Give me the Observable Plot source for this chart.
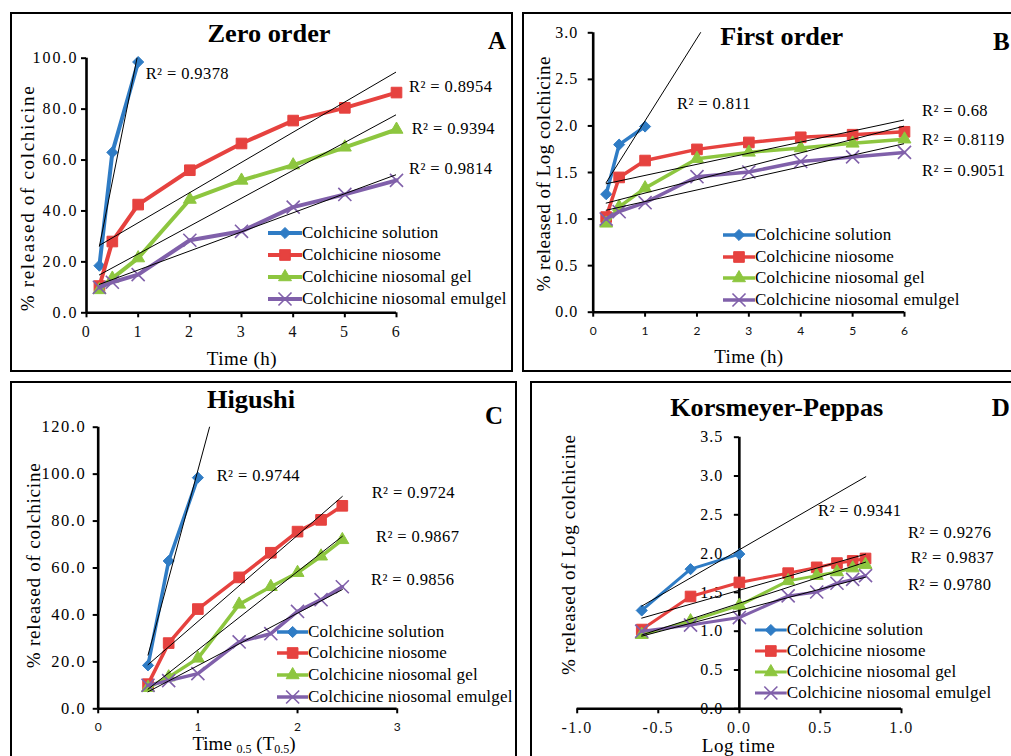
<!DOCTYPE html>
<html>
<head>
<meta charset="utf-8">
<script src="https://cdn.jsdelivr.net/npm/d3@7"></script>
<script src="https://cdn.jsdelivr.net/npm/@observablehq/plot@0.6"></script>
<style>
  html, body { margin: 0; padding: 0; background: #fff; }
  #page { position: relative; width: 1011px; height: 756px; overflow: hidden; background: #fff;
          font-family: "Liberation Serif", "Times New Roman", serif; color: #000; }
  .box { position: absolute; border: 2px solid #000; box-sizing: border-box; }
  .layer { position: absolute; left: 0; top: 0; }
  .legend { position: absolute; font-family: "Liberation Serif", "Times New Roman", serif;
            font-size: 17px; white-space: nowrap; letter-spacing: 0.2px; color: #000; }
  .legend .row { display: flex; align-items: center; }
  .legend svg { display: block; }
</style>
</head>
<body>
<div id="page"></div>
<script>
// ---- Release data (% colchicine released at each sampling time) ----
const seriesNames = ["Colchicine solution", "Colchicine niosome", "Colchicine niosomal gel", "Colchicine niosomal emulgel"];
const seriesColors = ["#2f7cc5", "#e6423f", "#8dc63f", "#8060aa"];
const timeH = [0.25, 0.5, 1, 2, 3, 4, 5, 6];
const solutionPct = [18.5, 63.0, 98.5];
const niosomePct = [10.5, 28.0, 42.5, 56.0, 66.5, 75.5, 80.5, 86.5];
const gelPct = [9.0, 13.5, 21.5, 44.5, 52.0, 58.0, 65.0, 72.0];
const emulgelPct = [10.0, 12.0, 15.0, 28.5, 32.0, 41.5, 46.5, 52.0];

// ---- Coefficients of determination of each kinetic fit ----
const r2ZeroOrder = ["0.9378", "0.8954", "0.9394", "0.9814"];
const r2FirstOrder = ["0.811", "0.68", "0.8119", "0.9051"];
const r2Higuchi = ["0.9744", "0.9724", "0.9867", "0.9856"];
const r2Peppas = ["0.9341", "0.9276", "0.9837", "0.9780"];

// ---- Axis ticks ----
const hourTicks = [0, 1, 2, 3, 4, 5, 6];
const zeroTicks = [0, 20, 40, 60, 80, 100];
const logTicks = [0, 0.5, 1, 1.5, 2, 2.5, 3];
const sqrtTicks = [0, 1, 2, 3];
const higuchiTicks = [0, 20, 40, 60, 80, 100, 120];
const logTimeTicks = [-1, -0.5, 0, 0.5, 1];
const peppasTicks = [0, 0.5, 1, 1.5, 2, 2.5, 3, 3.5];

const releaseSeries = [solutionPct, niosomePct, gelPct, emulgelPct];
const symbolNames = ["diamond2", "square", "triangle", "times"];
const symbolTypes = [d3.symbolDiamond2, d3.symbolSquare, d3.symbolTriangle, d3.symbolTimes];
const symbolR = [5, 6, 4.8, 6];

const W = 1011, H = 756;
const SERIF = "Liberation Serif";
const SANS = "Lato";
const fixed1 = d => d.toFixed(1);

const panels = [
  { title: "Zero order", letter: "A", fx: t => t, fy: v => v, r2: r2ZeroOrder,
    xDomain: [0, 6], yDomain: [0, 100], xTicks: hourTicks, yTicks: zeroTicks,
    xFormat: d => String(d), yFormat: fixed1, yAxisAt: 0,
    frame: { left: 86, right: 396, top: 57.7, bottom: 312.3 },
    forecast: [0, 0, 0, 0], lineWidth: 4,
    xFont: { fontFamily: SERIF, fontSize: 16 }, xPad: 8, yPad: 3, yFontSize: 16, ySpacing: 2,
    box: { left: 10, top: 12, width: 503, height: 360 },
    titlePos: [269, 41.7, 123], letterPos: [488, 48.5],
    yTitle: { text: "% released of colchicine", x: 27, y: 198.8, len: 225 },
    xTitle: { text: "Time (h)", x: 241.7, y: 365, len: 70 },
    r2Pos: [[145.7, 73.3], [409, 86], [411.7, 128], [409, 168]],
    legend: { left: 268, first: 232.7, step: 22, sw: 34 } },
  { title: "First order", letter: "B", fx: t => t, fy: v => Math.log10(v), r2: r2FirstOrder,
    xDomain: [0, 6], yDomain: [0, 3], xTicks: hourTicks, yTicks: logTicks,
    xFormat: d => String(d), yFormat: fixed1, yAxisAt: 0,
    frame: { left: 592.7, right: 904, top: 32.3, bottom: 311.7 },
    forecast: [2, 0, 0, 0], lineWidth: 3.5,
    xFont: { fontFamily: SANS, fontSize: 12 }, xPad: 9, yPad: 10, yFontSize: 16, ySpacing: 1,
    box: { left: 521.5, top: 12, width: 520, height: 360 },
    titlePos: [781.7, 45, 123], letterPos: [993, 50],
    yTitle: { text: "% released of Log colchicine", x: 543.3, y: 174, len: 235 },
    xTitle: { text: "Time (h)", x: 748.7, y: 363.3, len: 69 },
    r2Pos: [[677, 103], [922, 110], [922, 139], [922, 170]],
    legend: { left: 723, first: 235, step: 21.7, sw: 32 } },
  { title: "Higushi", letter: "C", fx: t => Math.sqrt(t), fy: v => v, r2: r2Higuchi,
    xDomain: [0, 3], yDomain: [0, 120], xTicks: sqrtTicks, yTicks: higuchiTicks,
    xFormat: d => String(d), yFormat: fixed1, yAxisAt: 0,
    frame: { left: 97.7, right: 396.7, top: 426.7, bottom: 708.3 },
    forecast: [1, 0, 0, 0], lineWidth: 3.5,
    xFont: { fontFamily: SANS, fontSize: 12 }, xPad: 9, yPad: 7, yFontSize: 16.5, ySpacing: 1.5,
    box: { left: 10, top: 381, width: 507, height: 400 },
    titlePos: [251, 408.3, 88], letterPos: [485, 424.3],
    yTitle: { text: "% released of colchicine", x: 33.3, y: 565.8, len: 205 },
    xTitle: null,
    r2Pos: [[216.7, 475], [371.7, 492], [376, 536.7], [371, 579]],
    legend: { left: 276.7, first: 631.7, step: 21.8, sw: 31.3 } },
  { title: "Korsmeyer-Peppas", letter: "D", fx: t => Math.log10(t), fy: v => Math.log10(v), r2: r2Peppas,
    xDomain: [-1, 1], yDomain: [0, 3.5], xTicks: logTimeTicks, yTicks: peppasTicks,
    xFormat: fixed1, yFormat: fixed1, yAxisAt: 0,
    frame: { left: 576.7, right: 901, top: 436.7, bottom: 708.3 },
    forecast: [0.78, 0, 0, 0], lineWidth: 3,
    xFont: { fontFamily: SERIF, fontSize: 16 }, xPad: 8, yPad: 11, yFontSize: 16, ySpacing: 1,
    box: { left: 530, top: 381, width: 500, height: 400 },
    titlePos: [776.7, 415.7, 213], letterPos: [991.7, 415.7],
    yTitle: { text: "% released of Log colchicine", x: 568.3, y: 555, len: 240 },
    xTitle: { text: "Log time", x: 738.3, y: 751.5, len: 73 },
    r2Pos: [[818, 510], [908, 532], [910.7, 557.7], [908, 584]],
    legend: { left: 755, first: 630, step: 21, sw: 31.7 } }
];

// least-squares straight line through a set of points
function fit(pts) {
  const mx = d3.mean(pts, p => p.x), my = d3.mean(pts, p => p.y);
  const b = d3.sum(pts, p => (p.x - mx) * (p.y - my)) / d3.sum(pts, p => (p.x - mx) ** 2);
  return { a: my - b * mx, b };
}

const page = d3.select("#page");

// panel frames
panels.forEach(p => {
  page.append("div").attr("class", "box")
    .style("left", p.box.left + "px").style("top", p.box.top + "px")
    .style("width", p.box.width + "px").style("height", p.box.height + "px");
});

// charts
panels.forEach(p => {
  const rows = releaseSeries.map(vals => vals.map((v, i) => ({ x: p.fx(timeH[i]), y: p.fy(v) })));
  const trends = rows.map((pts, k) => {
    const { a, b } = fit(pts);
    const x0 = d3.min(pts, d => d.x);
    const x1 = d3.max(pts, d => d.x) + p.forecast[k];
    return [{ x: x0, y: a + b * x0 }, { x: x1, y: a + b * x1 }];
  });

  const plotW = p.frame.right - p.frame.left;
  const yAxisDx = (p.yAxisAt - p.xDomain[0]) / (p.xDomain[1] - p.xDomain[0]) * plotW;

  const marks = [
    Plot.ruleY([0], { stroke: "#000", strokeWidth: 2.6 }),
    Plot.ruleX([p.yAxisAt], { stroke: "#000", strokeWidth: 2.6 }),
    Plot.axisX(p.xTicks, { anchor: "bottom", tickSize: 5, tickPadding: p.xPad, strokeWidth: 2,
      tickFormat: p.xFormat, label: null, fill: "#111", ...p.xFont }),
    Plot.axisY(p.yTicks, { anchor: "left", dx: yAxisDx, tickSize: 5, tickPadding: p.yPad, strokeWidth: 2,
      tickFormat: p.yFormat, label: null, fill: "#000", fontFamily: SERIF, fontSize: p.yFontSize })
  ];
  rows.forEach((pts, k) => {
    const c = seriesColors[k];
    marks.push(Plot.line(pts, { x: "x", y: "y", stroke: c, strokeWidth: p.lineWidth, strokeLinejoin: "round" }));
    marks.push(Plot.dot(pts, { x: "x", y: "y", symbol: symbolNames[k], r: symbolR[k],
      fill: k === 3 ? "none" : c, stroke: c, strokeWidth: k === 3 ? 1.6 : 1 }));
  });
  trends.forEach(seg => marks.push(Plot.line(seg, { x: "x", y: "y", stroke: "#000", strokeWidth: 1, clip: true })));

  const svg = Plot.plot({
    width: W, height: H,
    marginLeft: p.frame.left, marginRight: W - p.frame.right,
    marginTop: p.frame.top, marginBottom: H - p.frame.bottom,
    x: { domain: p.xDomain }, y: { domain: p.yDomain },
    style: { background: "transparent", overflow: "visible", fontFamily: SERIF },
    marks
  });
  svg.setAttribute("class", svg.getAttribute("class") + " layer");
  svg.style.position = "absolute";
  svg.style.left = "0px";
  svg.style.top = "0px";
  d3.select(svg).selectAll('g[aria-label="y-axis tick label"] text').attr("letter-spacing", p.ySpacing);
  if (p.xFont.fontFamily === SERIF)
    d3.select(svg).selectAll('g[aria-label="x-axis tick label"] text').attr("letter-spacing", 1.5);
  page.node().appendChild(svg);

  // legend inside the plot area
  const lg = page.append("div").attr("class", "legend")
    .style("left", p.legend.left + "px")
    .style("top", (p.legend.first - p.legend.step / 2) + "px");
  seriesNames.forEach((name, k) => {
    const row = lg.append("div").attr("class", "row").style("height", p.legend.step + "px");
    const s = row.append("svg").attr("width", p.legend.sw).attr("height", 16);
    s.append("line").attr("x1", 0).attr("x2", p.legend.sw).attr("y1", 8).attr("y2", 8)
      .attr("stroke", seriesColors[k]).attr("stroke-width", p.lineWidth);
    s.append("path").attr("d", d3.symbol(symbolTypes[k], Math.PI * symbolR[k] ** 2)())
      .attr("transform", `translate(${p.legend.sw / 2},8)`)
      .attr("fill", k === 3 ? "none" : seriesColors[k])
      .attr("stroke", seriesColors[k]).attr("stroke-width", k === 3 ? 1.6 : 1);
    row.append("span").text(name);
  });
});

// titles, axis titles and R² annotations
const ov = page.append("svg").attr("class", "layer").attr("width", W).attr("height", H)
  .style("font-family", SERIF);
panels.forEach(p => {
  ov.append("text").attr("x", p.titlePos[0]).attr("y", p.titlePos[1])
    .attr("text-anchor", "middle").attr("font-size", 25).attr("font-weight", "bold")
    .attr("textLength", p.titlePos[2]).attr("lengthAdjust", "spacingAndGlyphs").text(p.title);
  ov.append("text").attr("x", p.letterPos[0]).attr("y", p.letterPos[1])
    .attr("font-size", 25).attr("font-weight", "bold").text(p.letter);
  ov.append("text").attr("transform", `translate(${p.yTitle.x},${p.yTitle.y}) rotate(-90)`)
    .attr("text-anchor", "middle").attr("dominant-baseline", "central").attr("font-size", 19)
    .attr("textLength", p.yTitle.len).attr("lengthAdjust", "spacing").text(p.yTitle.text);
  if (p.xTitle) {
    ov.append("text").attr("x", p.xTitle.x).attr("y", p.xTitle.y).attr("text-anchor", "middle")
      .attr("font-size", 19).attr("textLength", p.xTitle.len).attr("lengthAdjust", "spacing")
      .text(p.xTitle.text);
  }
  p.r2.forEach((v, k) => {
    ov.append("text").attr("x", p.r2Pos[k][0]).attr("y", p.r2Pos[k][1])
      .attr("dominant-baseline", "central").attr("font-size", 16.5).attr("letter-spacing", 0.4)
      .text(`R² = ${v}`);
  });
});
// Higuchi x title with subscripts
{
  const t = ov.append("text").attr("x", 244).attr("y", 749.5).attr("text-anchor", "middle").attr("font-size", 19);
  t.append("tspan").text("Time ");
  t.append("tspan").attr("font-size", 12).attr("dy", 3).text("0.5");
  t.append("tspan").attr("dy", -3).text(" (T");
  t.append("tspan").attr("font-size", 12).attr("dy", 3).text("0.5");
  t.append("tspan").attr("dy", -3).text(")");
}
</script>
</body>
</html>
